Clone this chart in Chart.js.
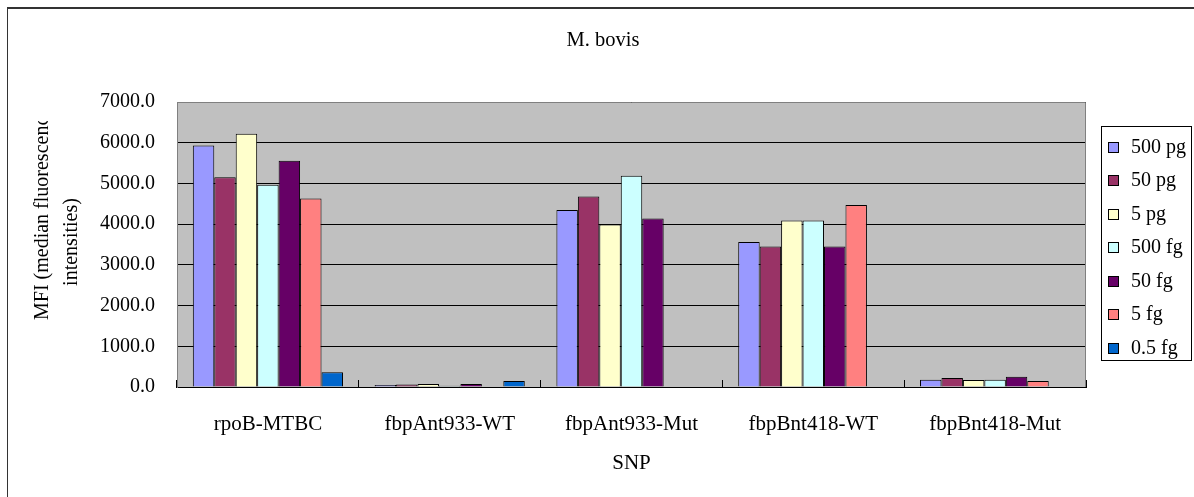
<!DOCTYPE html>
<html>
<head>
<meta charset="utf-8">
<script src="https://cdn.jsdelivr.net/npm/chart.js@4.4.1/dist/chart.umd.min.js"></script>
<style>
  html, body { margin: 0; padding: 0; background: #fff; }
  canvas { display: block; }
</style>
</head>
<body>
<canvas id="c" width="1194" height="497"></canvas>
<script>
// SNP probes on the category axis
const categories = ['rpoB-MTBC', 'fbpAnt933-WT', 'fbpAnt933-Mut', 'fbpBnt418-WT', 'fbpBnt418-Mut'];

// DNA amounts, one series each
const seriesNames = ['500 pg', '50 pg', '5 pg', '500 fg', '50 fg', '5 fg', '0.5 fg'];
const seriesColors = ['#9999FF', '#993366', '#FFFFCC', '#CCFFFF', '#660066', '#FF8080', '#0066CC'];

// MFI per probe
const mfi500pg = [5930, 50, 4350, 3560, 180];
const mfi50pg  = [5150, 60, 4680, 3450, 220];
const mfi5pg   = [6220, 75, 3990, 4090, 170];
const mfi500fg = [4970, 30, 5190, 4090, 180];
const mfi50fg  = [5560, 75, 4140, 3450, 250];
const mfi5fg   = [4630, 0, 0, 4470, 145];
const mfi05fg  = [360, 150, 0, 0, 0];

// value axis
const yMin = 0;
const yMax = 7000;
const yStep = 1000;

const seriesValues = [mfi500pg, mfi50pg, mfi5pg, mfi500fg, mfi50fg, mfi5fg, mfi05fg];

const FONT = "'Liberation Serif', 'Times New Roman', serif";
const FONT_SIZE = 20;

const decorations = {
  id: 'decorations',
  beforeDraw(chart) {
    const { ctx, chartArea: a, width, height } = chart;
    ctx.save();
    ctx.fillStyle = '#fff';
    ctx.fillRect(0, 0, width, height);
    // outer frame (left and top edges)
    ctx.fillStyle = '#333';
    ctx.fillRect(7, 7, width - 7, 2);
    ctx.fillRect(7, 7, 1, height - 7);
    // plot area
    ctx.fillStyle = '#C0C0C0';
    ctx.fillRect(a.left, a.top, a.right - a.left, a.bottom - a.top);
    ctx.restore();
  },
  afterDraw(chart) {
    const { ctx, chartArea: a } = chart;
    ctx.save();
    // plot area outline (top and right)
    ctx.strokeStyle = '#808080';
    ctx.lineWidth = 1;
    ctx.beginPath();
    ctx.moveTo(a.left, a.top + 0.5);
    ctx.lineTo(a.right - 0.5, a.top + 0.5);
    ctx.lineTo(a.right - 0.5, a.bottom);
    ctx.stroke();

    ctx.fillStyle = '#000';
    ctx.textBaseline = 'middle';

    // chart title
    ctx.textAlign = 'center';
    ctx.font = '20.5px ' + FONT;
    ctx.fillText('M. bovis', 603, 41);

    // category axis title
    ctx.font = '21px ' + FONT;
    ctx.fillText('SNP', (a.left + a.right) / 2, 463);

    // value axis title, two lines, first one cut at the top
    ctx.font = FONT_SIZE + 'px ' + FONT;
    ctx.save();
    ctx.beginPath();
    ctx.rect(0, 121, 120, 300);
    ctx.clip();
    ctx.translate(43, 320);
    ctx.rotate(-Math.PI / 2);
    ctx.textAlign = 'left';
    ctx.fillText('MFI (median fluorescence', 0, 0);
    ctx.restore();

    ctx.save();
    ctx.translate(72, 242);
    ctx.rotate(-Math.PI / 2);
    ctx.textAlign = 'center';
    ctx.fillText('intensities)', 0, 0);
    ctx.restore();

    // legend
    ctx.font = FONT_SIZE + 'px ' + FONT;
    const lx = 1101.5, ly = 126.5, lw = 90, lh = 234;
    ctx.strokeStyle = '#000';
    ctx.strokeRect(lx, ly, lw, lh);
    ctx.textAlign = 'left';
    chart.data.datasets.forEach((ds, i) => {
      const cy = 147.5 + i * 33.5;
      ctx.fillStyle = ds.backgroundColor;
      ctx.fillRect(1108, Math.round(cy) - 5, 10, 10);
      ctx.strokeRect(1108.5, Math.round(cy) - 5.5, 10, 10);
      ctx.fillStyle = '#000';
      ctx.fillText(ds.label, 1131, cy);
    });
    ctx.restore();
  }
};

new Chart(document.getElementById('c'), {
  type: 'bar',
  data: {
    labels: categories,
    datasets: seriesNames.map((name, i) => ({
      label: name,
      data: seriesValues[i],
      backgroundColor: seriesColors[i],
      borderColor: '#000',
      borderWidth: 1,
      categoryPercentage: 0.826,
      barPercentage: 1.0
    }))
  },
  options: {
    responsive: false,
    animation: false,
    layout: { padding: { top: 102, right: 108, bottom: 0, left: 0 } },
    plugins: {
      legend: { display: false },
      title: { display: false },
      tooltip: { enabled: false }
    },
    scales: {
      x: {
        afterFit(scale) { scale.height = 110; },
        grid: {
          display: true,
          drawOnChartArea: false,
          drawTicks: true,
          tickLength: -7,
          offset: true,
          color: '#000',
          lineWidth: 1
        },
        border: { display: true, color: '#000', width: 1 },
        ticks: {
          color: '#000',
          padding: 32,
          maxRotation: 0,
          autoSkip: false,
          font: { family: FONT, size: 21 }
        }
      },
      y: {
        min: yMin,
        max: yMax,
        afterFit(scale) { scale.width = 177; },
        grid: { color: '#000', lineWidth: 1, drawTicks: false },
        border: { display: true, color: '#808080', width: 1 },
        ticks: {
          stepSize: yStep,
          color: '#000',
          padding: 22,
          font: { family: FONT, size: FONT_SIZE },
          callback: (v) => Number(v).toFixed(1)
        }
      }
    }
  },
  plugins: [decorations]
});
</script>
</body>
</html>
